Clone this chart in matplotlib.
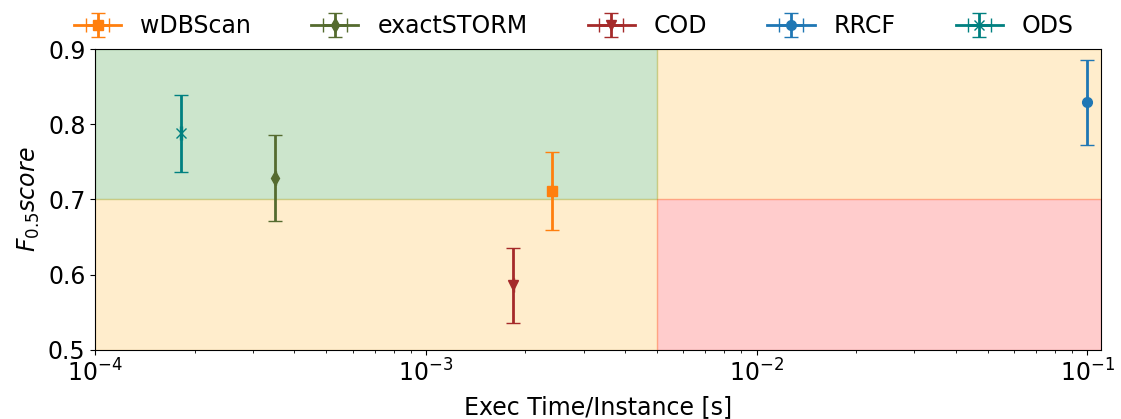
import matplotlib
matplotlib.use("Agg")
import matplotlib.pyplot as plt

# exec time per instance [s] and F0.5 score with std
names = ["wDBScan", "exactSTORM", "COD", "RRCF", "ODS"]
exec_time = [2.4e-3, 3.5e-4, 1.84e-3, 0.1, 1.82e-4]
f_score = [0.711, 0.729, 0.586, 0.829, 0.788]
f_std = [0.052, 0.057, 0.050, 0.057, 0.051]
time_std = [1e-6, 1e-6, 1e-6, 1e-6, 1e-6]
colors = ["#ff7f0e", "#556b2f", "#a52a2a", "#1f77b4", "#008080"]
markers = ["s", "d", "v", "o", "x"]

time_split = 5e-3
score_split = 0.7

fig = plt.figure(figsize=(11.21, 4.19), dpi=100)
ax = fig.add_axes([0.085, 0.165, 0.897, 0.718])

# quality / speed regions
ax.axvspan(1e-4, time_split, ymin=0.5, ymax=1.0, color="green", alpha=0.2)
ax.axvspan(1e-4, time_split, ymin=0.0, ymax=0.5, color="orange", alpha=0.2)
ax.axvspan(time_split, 0.11, ymin=0.5, ymax=1.0, color="orange", alpha=0.2)
ax.axvspan(time_split, 0.11, ymin=0.0, ymax=0.5, color="red", alpha=0.2)

for i in range(len(names)):
    ax.errorbar(exec_time[i], f_score[i], yerr=f_std[i], xerr=time_std[i],
                fmt="-" + markers[i], color=colors[i], capsize=5, elinewidth=2,
                linewidth=2, markersize=7, label=names[i])

ax.set_xscale("log")
ax.set_xlim(1e-4, 0.11)
ax.set_ylim(0.5, 0.9)
ax.set_yticks([0.5, 0.6, 0.7, 0.8, 0.9])
ax.tick_params(labelsize=17)
ax.set_xlabel("Exec Time/Instance [s]", fontsize=17, labelpad=6)
ax.set_ylabel("$F_{0.5} score$", fontsize=17)

ax.legend(loc="lower center", bbox_to_anchor=(0.476, 0.965), ncol=5,
          frameon=False, fontsize=17, columnspacing=2.55, handlelength=2.0)

fig.savefig("out.png", dpi=100)
